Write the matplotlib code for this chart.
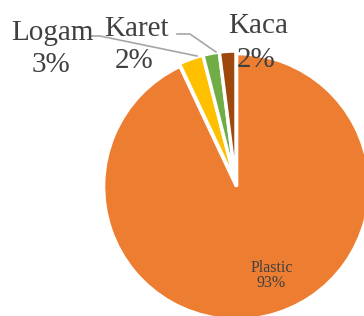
import matplotlib
matplotlib.use("Agg")
import matplotlib.pyplot as plt

categories = ["Plastic", "Logam", "Karet", "Kaca"]
values = [93, 3, 2, 2]
colors = ["#ED7D31", "#FFC000", "#70AD47", "#9E480E"]

W, H = 364, 316
cx, cy, R = 236, 184, 133

plt.rcParams['font.family'] = ['Liberation Serif', 'DejaVu Serif']
fig = plt.figure(figsize=(W / 100, H / 100), dpi=100)
ax = fig.add_axes([0, 0, 1, 1])
wedges, _ = ax.pie(values, colors=colors, startangle=90, counterclock=False,
                   explode=[0.02, 0, 0, 0],
                   wedgeprops=dict(edgecolor="white", linewidth=2.5))
ax.set_aspect('auto')
ax.set_xlim(-cx / R, (W - cx) / R)
ax.set_ylim(-(H - cy) / R, cy / R)
ax.axis('off')

def P(x, y):
    return ((x - cx) / R, (cy - y) / R)

tc = "#404040"
lc = "#A6A6A6"
total = sum(values)
pct = [f"{round(v / total * 100)}%" for v in values]

def label(name, p, pos1, pos2, fs):
    ax.text(*P(*pos1), name, ha='center', va='baseline', fontsize=fs, color=tc)
    ax.text(*P(*pos2), p, ha='center', va='baseline', fontsize=fs, color=tc)

# Plastic label inside
label(categories[0], pct[0], (272, 272), (271, 287), 11.5)
# outside labels
label(categories[1], pct[1], (52.5, 40), (51, 72), 21)
label(categories[2], pct[2], (136.5, 36), (134.5, 68), 21)
label(categories[3], pct[3], (258.5, 33), (256, 67), 21)

# leader lines
for pts in ([(90, 36), (100, 36), (197, 56)], [(177, 34), (190, 34), (216, 52)]):
    xs, ys = zip(*[P(*p) for p in pts])
    ax.plot(xs, ys, color=lc, lw=1.2)

fig.savefig("out.png", dpi=100)
